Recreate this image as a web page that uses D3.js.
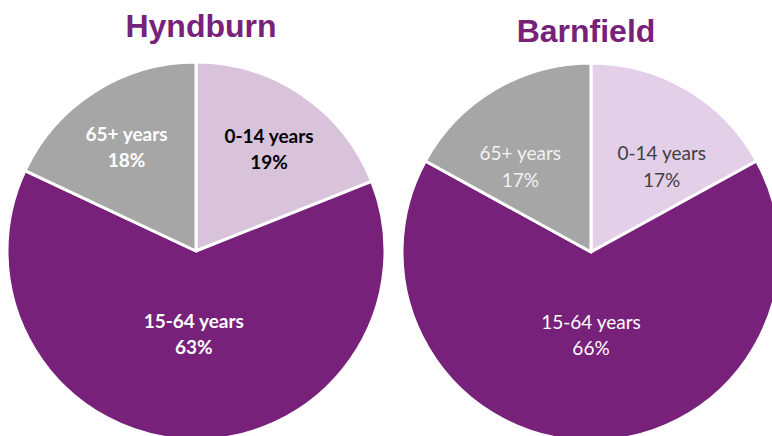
<!DOCTYPE html>
<html>
<head>
<meta charset="utf-8">
<script src="https://cdn.jsdelivr.net/npm/d3@7"></script>
<style>
  body { margin: 0; background: #fff; }
</style>
</head>
<body>
<div id="chart"></div>
<script>
var ageGroups = ["0-14 years", "15-64 years", "65+ years"];
var hyndburnShare = [19, 63, 18];
var barnfieldShare = [17, 66, 17];

var width = 772, height = 436;
var radius = 189;

var svg = d3.select("#chart")
    .append("svg")
    .attr("width", width)
    .attr("height", height);

var pie = d3.pie().sort(null).value(function(d) { return d.value; });

var arc = d3.arc().innerRadius(0).outerRadius(radius);

function drawPie(opts) {
    var data = ageGroups.map(function(g, i) {
        return {group: g, value: opts.values[i]};
    });
    var color = d3.scaleOrdinal().domain(ageGroups).range(opts.colors);
    var textColor = d3.scaleOrdinal().domain(ageGroups).range(opts.textColors);

    svg.append("text")
        .attr("x", opts.cx + opts.titleDx)
        .attr("y", opts.titleY)
        .attr("text-anchor", "middle")
        .attr("font-family", "Liberation Sans, Arial, sans-serif")
        .attr("font-weight", "bold")
        .attr("font-size", 32)
        .attr("fill", "#77217a")
        .text(opts.title);

    var g = svg.append("g")
        .attr("transform", "translate(" + opts.cx + "," + opts.cy + ")");

    var slices = g.selectAll(".slice")
        .data(pie(data))
        .enter()
        .append("g")
        .attr("class", "slice");

    slices.append("path")
        .attr("d", arc)
        .attr("fill", function(d) { return color(d.data.group); })
        .attr("stroke", "#fff")
        .attr("stroke-width", 3)
        .attr("stroke-linejoin", "round");

    var label = slices.append("text")
        .attr("transform", function(d) {
            var big = d.endAngle - d.startAngle > Math.PI;
            var r = big ? 0.37 * radius : opts.labelR * radius;
            var a = (d.startAngle + d.endAngle) / 2;
            if (!big) a += opts.labelShift * (d.startAngle < Math.PI ? 1 : -1);
            return "translate(" + (Math.sin(a) * r) + "," + (-Math.cos(a) * r) + ")";
        })
        .attr("text-anchor", "middle")
        .attr("font-family", "Lato, 'Open Sans', sans-serif")
        .attr("font-weight", opts.weight)
        .attr("font-size", 19)
        .attr("fill", function(d) { return textColor(d.data.group); });

    label.append("tspan")
        .attr("x", 0)
        .attr("dy", "0.35em")
        .text(function(d) { return d.data.group; });

    label.append("tspan")
        .attr("x", 0)
        .attr("dy", "1.37em")
        .text(function(d) { return d.data.value + "%"; });
}

drawPie({
    title: "Hyndburn", values: hyndburnShare,
    cx: 196, cy: 251, titleDx: 5, titleY: 37,
    colors: ["#d9c3da", "#77217a", "#a6a6a6"],
    textColors: ["#000000", "#ffffff", "#ffffff"],
    weight: "bold", labelR: 0.72, labelShift: -0.03
});

drawPie({
    title: "Barnfield", values: barnfieldShare,
    cx: 591, cy: 252, titleDx: -5, titleY: 42,
    colors: ["#e3d0e8", "#77217a", "#a6a6a6"],
    textColors: ["#404040", "#ffffff", "#f2f2f2"],
    weight: "normal", labelR: 0.64, labelShift: 0.09
});
</script>
</body>
</html>
